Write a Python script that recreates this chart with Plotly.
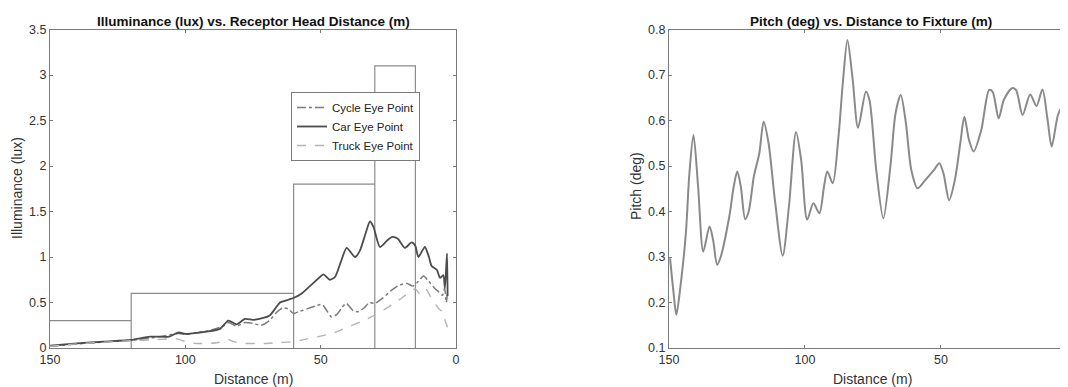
import plotly.graph_objects as go

# illuminance limits per distance zone (step outline)
zone_edges = [150, 120, 60, 30, 15]
zone_levels = [0.3, 0.6, 1.8, 3.1]

car_dist = [150, 140, 130, 120, 113, 106, 102.6, 99.5, 95, 92, 87.2, 84.1, 81, 78, 75, 71.2, 68.7, 65, 62,
            60.1, 57, 54, 51, 49, 46.6, 44.7, 42.5, 40.4, 37.3, 35.5, 33.5, 31.8, 30.5, 28.1, 25.5, 23.5, 21.5,
            18.9, 16.4, 15, 13.9, 11.5, 10, 9, 7.1, 5.9, 4.7, 4.1, 3.6, 3.3, 3.1]
car_lux = [0.025, 0.05, 0.07, 0.088, 0.125, 0.125, 0.17, 0.154, 0.17, 0.18, 0.21, 0.3, 0.26, 0.32, 0.31, 0.33, 0.36, 0.5, 0.53,
           0.55, 0.6, 0.68, 0.76, 0.81, 0.75, 0.78, 0.95, 1.1, 1.0, 1.07, 1.25, 1.39, 1.33, 1.11, 1.18, 1.22, 1.2,
           1.1, 1.16, 1.12, 1.0, 1.11, 1.0, 0.9, 0.86, 0.77, 0.8, 0.66, 0.9, 1.04, 0.57]

cyc_dist = [150, 140, 130, 120, 110, 102.6, 99.5, 95, 90, 86, 84, 81, 78, 75, 72, 69, 66, 64, 62, 60, 58, 55, 52,
            49.5, 47.5, 46, 44, 42, 40.5, 38, 36, 34, 32, 30, 27, 24, 21, 18, 16, 14, 12, 10, 8, 6.5, 5, 4.2, 3.6, 3.2]
cyc_lux = [0.02, 0.045, 0.065, 0.085, 0.12, 0.16, 0.15, 0.17, 0.2, 0.24, 0.28, 0.24, 0.28, 0.27, 0.25, 0.3, 0.4, 0.44, 0.43,
           0.38, 0.4, 0.43, 0.46, 0.48, 0.4, 0.34, 0.37, 0.45, 0.49, 0.41, 0.4, 0.44, 0.5, 0.49, 0.55, 0.63, 0.69, 0.71,
           0.68, 0.73, 0.79, 0.73, 0.66, 0.62, 0.58, 0.66, 0.5, 0.6]

trk_dist = [150, 140, 130, 120, 112, 106, 103, 100, 96, 92, 88, 85, 82, 78, 74, 70, 65, 60, 55, 50, 45, 40, 35, 30, 25,
            20, 17, 15, 13.5, 11.5, 9.5, 7.5, 6, 4.8, 4, 3.4, 3.1]
trk_lux = [0.02, 0.045, 0.065, 0.08, 0.09, 0.1, 0.1, 0.07, 0.05, 0.05, 0.06, 0.1, 0.07, 0.05, 0.05, 0.05, 0.06, 0.07, 0.1,
           0.13, 0.17, 0.23, 0.29, 0.36, 0.45, 0.55, 0.62, 0.65, 0.6, 0.66, 0.57, 0.48, 0.42, 0.4, 0.3, 0.25, 0.2]

pitch_dist = [149.6, 148.3, 147.3, 145.8, 143.8, 142.5, 141, 139.3, 137.4, 135.1, 133.8, 132.3, 131, 127.8, 126.2, 124.9,
              123.6, 122, 120.7, 118.8, 116.8, 115.2, 113.4, 111, 108.2, 105.9, 103.3, 101.4, 99.2, 96.9, 94.7, 93,
              91.8, 89.8, 87.7, 86, 84.4, 82.5, 80.5, 77.6, 76.3, 73.8, 71.2, 68.6, 66.7, 64.8, 62.9, 60.9, 58.6,
              55.8, 52.6, 50.6, 49.1, 47, 44.9, 42.9, 41.4, 39.7, 38, 35.2, 32.3, 31, 28.8, 26.9, 23.9, 22.4, 20,
              17.2, 14.9, 12.7, 10.8, 9.3, 7, 5.7, 4.2]
pitch_deg = [0.297, 0.22, 0.173, 0.235, 0.352, 0.484, 0.568, 0.455, 0.312, 0.367, 0.338, 0.283, 0.3, 0.39, 0.455, 0.488,
             0.455, 0.383, 0.4, 0.477, 0.528, 0.597, 0.55, 0.422, 0.303, 0.411, 0.575, 0.513, 0.382, 0.418, 0.396, 0.455,
             0.488, 0.462, 0.564, 0.689, 0.777, 0.692, 0.584, 0.663, 0.645, 0.491, 0.385, 0.499, 0.616, 0.656, 0.594,
             0.491, 0.451, 0.469, 0.491, 0.506, 0.484, 0.425, 0.469, 0.55, 0.608, 0.557, 0.532, 0.579, 0.667, 0.663,
             0.605, 0.645, 0.671, 0.667, 0.612, 0.657, 0.632, 0.668, 0.601, 0.543, 0.612, 0.627, 0.586]

lux_ticks = [0, 0.5, 1, 1.5, 2, 2.5, 3, 3.5]
lux_labels = ['0', '0.5', '1', '1.5', '2', '2.5', '3', '3.5']
pitch_ticks = [0.1, 0.2, 0.3, 0.4, 0.5, 0.6, 0.7, 0.8]
pitch_labels = ['0.1', '0.2', '0.3', '0.4', '0.5', '0.6', '0.7', '0.8']
dist_ticks = [150, 100, 50, 0]

# the page body adds an 8px margin, so the figure is laid out 8px smaller
W, H, OFF = 1060, 379, 8


def fx(px):
    return (px - OFF) / W


def fy(py):
    return 1 - (py - OFF) / H


# build the zone outline: top edge of each zone, then drop to zero
zx, zy = [], []
for i, lvl in enumerate(zone_levels):
    if i > 0:
        zx.append(zone_edges[i]); zy.append(0)
    zx += [zone_edges[i], zone_edges[i + 1]]
    zy += [lvl, lvl]
zx.append(zone_edges[-1]); zy.append(0)

FONT = 'Liberation Sans, Arial, sans-serif'

fig = go.Figure()
fig.add_trace(go.Scatter(x=zx, y=zy, mode='lines', line=dict(color='#8c8c8c', width=1.2),
                         showlegend=False, xaxis='x', yaxis='y'))
fig.add_trace(go.Scatter(x=cyc_dist, y=cyc_lux, mode='lines', name='Cycle Eye Point',
                         line=dict(color='#7c7c7c', width=1.5, dash='dashdot', shape='spline', smoothing=0.6)))
fig.add_trace(go.Scatter(x=car_dist, y=car_lux, mode='lines', name='Car Eye Point',
                         line=dict(color='#4c4c4c', width=1.8, shape='spline', smoothing=0.6)))
fig.add_trace(go.Scatter(x=trk_dist, y=trk_lux, mode='lines', name='Truck Eye Point',
                         line=dict(color='#b4b4b4', width=1.4, dash='dash', shape='spline', smoothing=0.6)))
fig.add_trace(go.Scatter(x=pitch_dist, y=pitch_deg, mode='lines', showlegend=False,
                         line=dict(color='#8a8a8a', width=2, shape='spline', smoothing=0.8),
                         xaxis='x2', yaxis='y2'))

ax = dict(showgrid=False, zeroline=False, showline=True, linecolor='#7a7a7a', linewidth=1,
          ticks='inside', ticklen=3, tickcolor='#7a7a7a', automargin=False,
          tickfont=dict(family=FONT, size=12.5, color='#333333'))
ydom = [fy(348), fy(29.5)]

fig.update_layout(
    width=W, height=H,
    margin=dict(l=0, r=0, t=0, b=0),
    paper_bgcolor='white', plot_bgcolor='white',
    xaxis=dict(ax, domain=[fx(50), fx(456)], range=[150, 0], tickmode='array', tickvals=dist_ticks,
               mirror='ticks', anchor='y'),
    yaxis=dict(ax, domain=ydom, range=[0, 3.5], tickmode='array', tickvals=lux_ticks, ticktext=lux_labels,
               mirror='ticks', anchor='x'),
    xaxis2=dict(ax, domain=[fx(669), 1.0], range=[150, 3.3], tickmode='array', tickvals=dist_ticks,
                mirror='ticks', anchor='y2'),
    yaxis2=dict(ax, domain=ydom, range=[0.1, 0.8], tickmode='array', tickvals=pitch_ticks, ticktext=pitch_labels,
                anchor='x2'),
    legend=dict(x=fx(291), y=fy(92), xanchor='left', yanchor='top', bgcolor='white',
                bordercolor='#7a7a7a', borderwidth=1, tracegroupgap=0,
                font=dict(family=FONT, size=11.5, color='#222222')),
)

title_font = dict(family=FONT, size=13.5, color='#111111')
label_font = dict(family=FONT, size=14, color='#333333')
notes = [
    dict(text='<b>Illuminance (lux) vs. Receptor Head Distance (m)</b>', x=253, y=21, font=title_font),
    dict(text='<b>Pitch (deg) vs. Distance to Fixture (m)</b>', x=871, y=21, font=title_font),
    dict(text='Distance (m)', x=253, y=379, font=label_font),
    dict(text='Distance (m)', x=872, y=379, font=label_font),
    dict(text='Illuminance (lux)', x=17, y=188, font=label_font, textangle=-90),
    dict(text='Pitch (deg)', x=636, y=186, font=label_font, textangle=-90),
]
for n in notes:
    fig.add_annotation(text=n['text'], x=fx(n['x']), y=fy(n['y']), xref='paper', yref='paper',
                       xanchor='center', yanchor='middle', showarrow=False, font=n['font'],
                       textangle=n.get('textangle', 0))

fig.write_html("out.html")
